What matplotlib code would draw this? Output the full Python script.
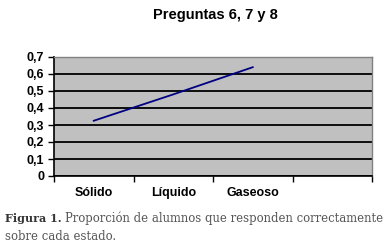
import numpy as np
import matplotlib
matplotlib.use('Agg')
import matplotlib.pyplot as plt

categorias = ['Sólido', 'Líquido', 'Gaseoso']
proporcion = [0.325, 0.48, 0.64]
yticks = [0, 0.1, 0.2, 0.3, 0.4, 0.5, 0.6, 0.7]
ytick_labels = ['0', '0,1', '0,2', '0,3', '0,4', '0,5', '0,6', '0,7']

fig = plt.figure(figsize=(3.91, 2.48), dpi=100)
ax = fig.add_axes([54/391, 72/248, 318/391, 119/248])
ax.set_facecolor('#c0c0c0')

x = np.arange(len(categorias))
ax.plot(x, proporcion, color='#000080', lw=1.3, zorder=3)

ax.set_ylim(0, 0.7)
ax.set_yticks(yticks)
ax.set_yticklabels(ytick_labels, fontsize=9, fontweight='bold', family='Liberation Sans')
ax.yaxis.grid(True, color='black', lw=1.3)
ax.set_axisbelow(True)

ax.set_xlim(-0.5, 3.5)
ax.set_xticks(np.arange(-0.5, 3.6, 1))
ax.set_xticklabels([])
ax.set_xticks(x, minor=True)
ax.set_xticklabels(categorias, minor=True, fontsize=9, fontweight='bold', family='Liberation Sans')
ax.tick_params(axis='x', which='minor', length=0, pad=8)
ax.tick_params(axis='x', which='major', length=4, width=1, direction='out')
ax.tick_params(axis='y', length=4, width=1, direction='out', pad=3)

for s in ['left', 'bottom']:
    ax.spines[s].set_color('black')
    ax.spines[s].set_linewidth(1.2)
for s in ['top', 'right']:
    ax.spines[s].set_color('#808080')
    ax.spines[s].set_linewidth(1)

fig.text(215/391, 1 - 15/248, 'Preguntas 6, 7 y 8', ha='center', va='center',
         fontsize=10.5, fontweight='bold', family='Liberation Sans')

# caption, serif
fs = 8.4
fig.text(5/391, 1 - 218/248, 'Figura 1.', ha='left', va='center', fontsize=8.0,
         family='DejaVu Serif', color='#333333', fontweight='bold')
fig.text(65/391, 1 - 218/248, 'Proporción de alumnos que responden correctamente',
         ha='left', va='center', fontsize=fs, family='DejaVu Serif', color='#555555')
fig.text(5/391, 1 - 237/248, 'sobre cada estado.', ha='left', va='center', fontsize=fs,
         family='DejaVu Serif', color='#555555')

plt.savefig('out.png', dpi=100)
